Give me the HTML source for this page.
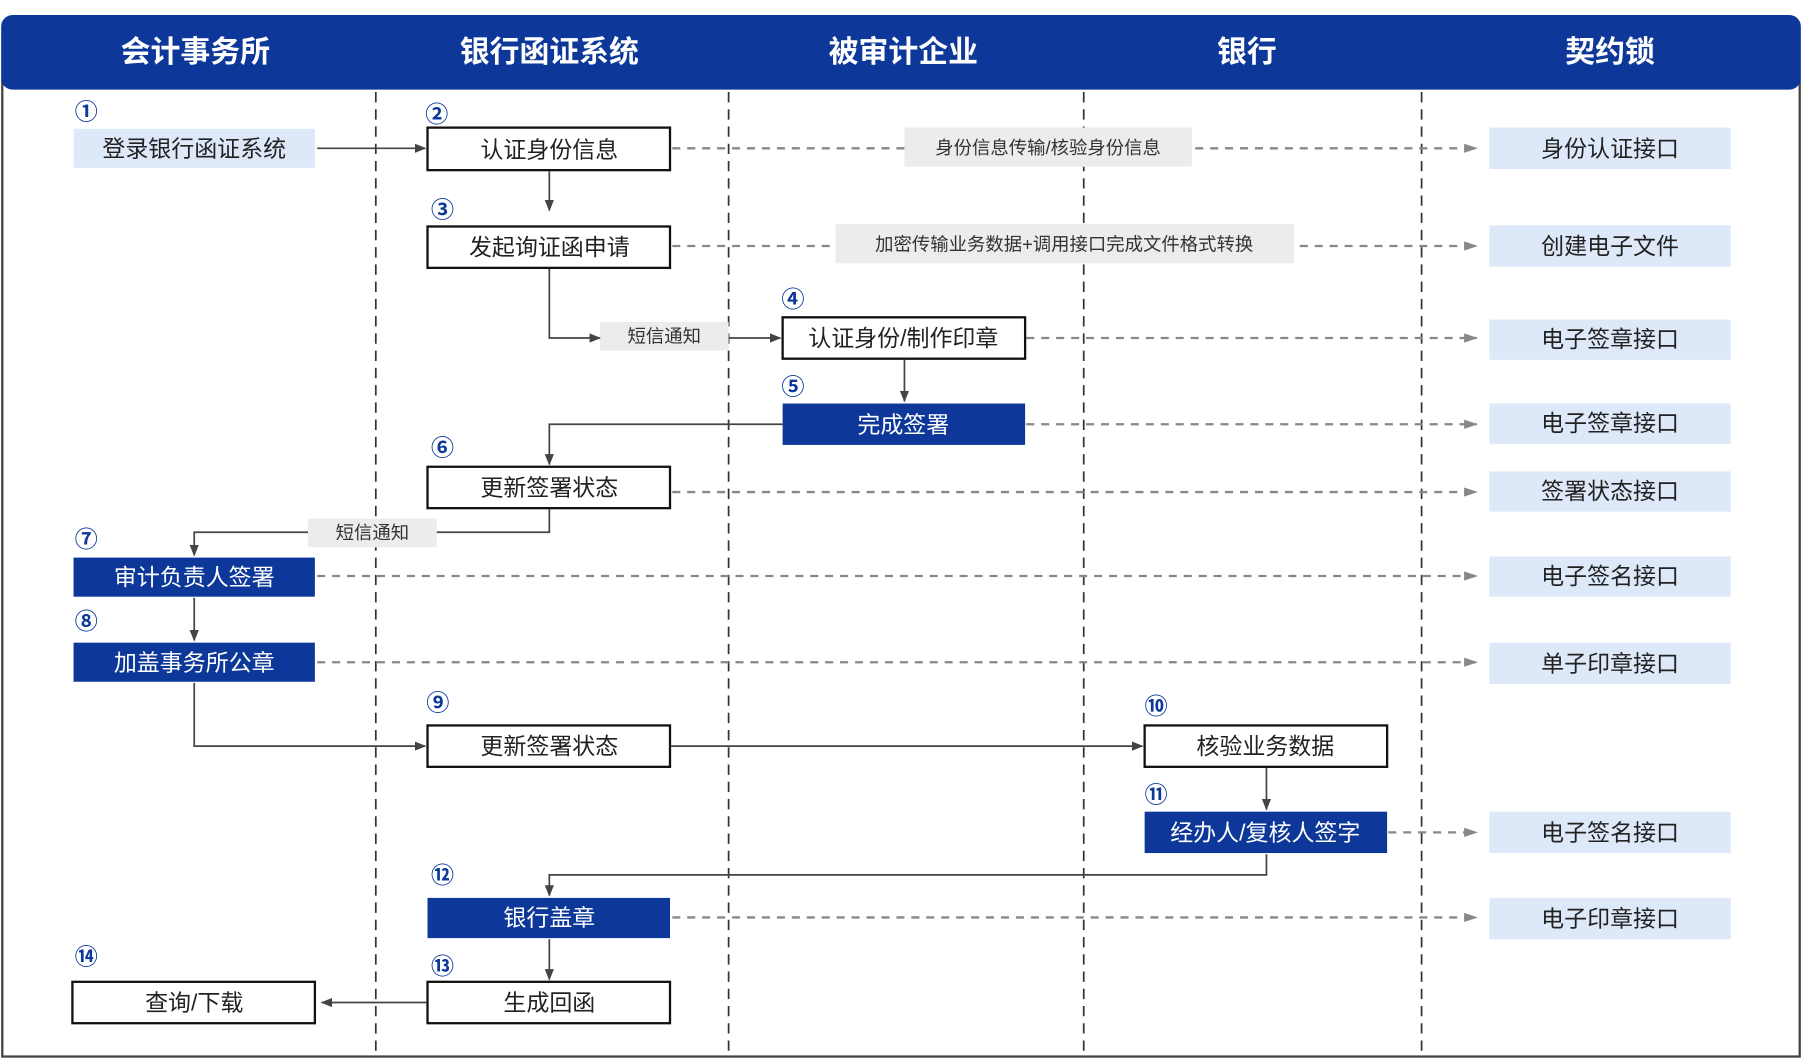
<!DOCTYPE html>
<html><head><meta charset="utf-8"><style>
html,body{margin:0;padding:0;background:#fff;width:1802px;height:1060px;overflow:hidden}
svg{display:block}
text{font-family:"Liberation Sans","Noto Sans CJK SC",sans-serif}
</style></head><body>
<svg width="1802" height="1060" viewBox="0 0 1568 922" preserveAspectRatio="none" xmlns="http://www.w3.org/2000/svg">
<defs>
<marker id="a" markerWidth="10" markerHeight="10" refX="9" refY="5" orient="auto" markerUnits="userSpaceOnUse"><path d="M0,1 L10,5 L0,9 z" fill="#444"/></marker>
<marker id="g" markerWidth="12" markerHeight="10" refX="11" refY="5" orient="auto" markerUnits="userSpaceOnUse"><path d="M0,1 L12,5 L0,9 z" fill="#888"/></marker>
</defs>
<rect x="2" y="70" width="1564" height="849" fill="#fff" stroke="#444" stroke-width="2"/>
<rect x="1" y="13" width="1566" height="65" rx="10" fill="#0d3899"/>
<g fill="#fff" font-size="26" font-weight="bold" text-anchor="middle">
<text x="170" y="54">会计事务所</text><text x="478" y="54">银行函证系统</text><text x="786" y="54">被审计企业</text><text x="1085" y="54">银行</text><text x="1401" y="54">契约锁</text>
</g>
<g stroke="#333" stroke-width="1.5" stroke-dasharray="9,6">
<line x1="327" y1="80" x2="327" y2="918"/><line x1="634" y1="80" x2="634" y2="918"/><line x1="943" y1="80" x2="943" y2="918"/><line x1="1237" y1="80" x2="1237" y2="918"/>
</g>
<g stroke="#888" stroke-width="2" stroke-dasharray="7,6" fill="none" marker-end="url(#g)">
<path d="M585 129 H1285"/><path d="M585 214 H1285"/><path d="M893 294 H1285"/><path d="M893 369 H1285"/><path d="M585 428 H1285"/><path d="M276 501 H1285"/><path d="M276 576 H1285"/><path d="M1208 724 H1285"/><path d="M585 798 H1285"/>
</g>
<g fill="#ececec"><rect x="787" y="111" width="250" height="34"/><rect x="727" y="195" width="399" height="34"/><rect x="522" y="280" width="112" height="25"/><rect x="268" y="451" width="112" height="25"/></g>
<g fill="#333" font-size="16" text-anchor="middle">
<text x="912" y="134">身份信息传输/核验身份信息</text><text x="926" y="218">加密传输业务数据+调用接口完成文件格式转换</text><text x="578" y="298">短信通知</text><text x="324" y="469">短信通知</text>
</g>
<g stroke="#444" stroke-width="1.5" fill="none" marker-end="url(#a)">
<path d="M276 129 H370"/><path d="M478 149 V183"/><path d="M478 234 V294 H522"/><path d="M634 294 H679"/>
<path d="M787 313 V349"/><path d="M681 369 H478 V404"/><path d="M268 463 H169 V483"/>
<path d="M169 520 V557"/><path d="M169 594 V649 H370"/><path d="M584 649 H994"/><path d="M1102 668 V704"/>
<path d="M1102 743 V761 H478 V779"/><path d="M478 817 V852"/><path d="M371 872 H280"/>
</g>
<path d="M478 443 V463 H380" stroke="#444" stroke-width="1.5" fill="none"/>
<g fill="#dde8f8">
<rect x="64" y="112" width="210" height="34"/>
<rect x="1296" y="111" width="210" height="36"/><rect x="1296" y="196" width="210" height="36"/><rect x="1296" y="278" width="210" height="35"/><rect x="1296" y="351" width="210" height="35"/><rect x="1296" y="410" width="210" height="35"/><rect x="1296" y="484" width="210" height="35"/><rect x="1296" y="559" width="210" height="36"/><rect x="1296" y="706" width="210" height="36"/><rect x="1296" y="781" width="210" height="36"/>
</g>
<g fill="#fff" stroke="#111" stroke-width="2">
<rect x="372" y="111" width="211" height="37"/><rect x="372" y="197" width="211" height="36"/><rect x="681" y="276" width="211" height="36"/><rect x="372" y="406" width="211" height="36"/><rect x="372" y="631" width="211" height="36"/><rect x="996" y="631" width="211" height="36"/><rect x="372" y="854" width="211" height="36"/><rect x="63" y="854" width="211" height="36"/>
</g>
<g fill="#0d3899">
<rect x="681" y="351" width="211" height="36"/><rect x="64" y="485" width="210" height="34"/><rect x="64" y="559" width="210" height="34"/><rect x="996" y="706" width="211" height="36"/><rect x="372" y="781" width="211" height="35"/>
</g>
<g font-size="20" text-anchor="middle" fill="#222">
<text x="169" y="136">登录银行函证系统</text>
<text x="478" y="137">认证身份信息</text><text x="478" y="222">发起询证函申请</text><text x="786" y="301">认证身份/制作印章</text><text x="478" y="431">更新签署状态</text><text x="478" y="656">更新签署状态</text><text x="1101" y="656">核验业务数据</text><text x="478" y="879">生成回函</text><text x="169" y="879">查询/下载</text>
<text x="1401" y="136">身份认证接口</text><text x="1401" y="221">创建电子文件</text><text x="1401" y="302">电子签章接口</text><text x="1401" y="375">电子签章接口</text><text x="1401" y="434">签署状态接口</text><text x="1401" y="508">电子签名接口</text><text x="1401" y="584">单子印章接口</text><text x="1401" y="731">电子签名接口</text><text x="1401" y="806">电子印章接口</text>
</g>
<g font-size="20" text-anchor="middle" fill="#fff">
<text x="786" y="376">完成签署</text><text x="169" y="509">审计负责人签署</text><text x="169" y="583">加盖事务所公章</text><text x="1101" y="731">经办人/复核人签字</text><text x="478" y="805">银行盖章</text>
</g>
<g font-size="20" font-weight="bold" fill="#0d3899" text-anchor="middle">
<text x="75" y="104">①</text><text x="380" y="106">②</text><text x="385" y="189">③</text><text x="690" y="267">④</text><text x="690" y="343">⑤</text><text x="385" y="396">⑥</text><text x="75" y="476">⑦</text><text x="75" y="547">⑧</text><text x="381" y="618">⑨</text><text x="1006" y="621">⑩</text><text x="1006" y="698">⑪</text><text x="385" y="768">⑫</text><text x="385" y="847">⑬</text><text x="75" y="839">⑭</text>
</g>
</svg>
</body></html>
